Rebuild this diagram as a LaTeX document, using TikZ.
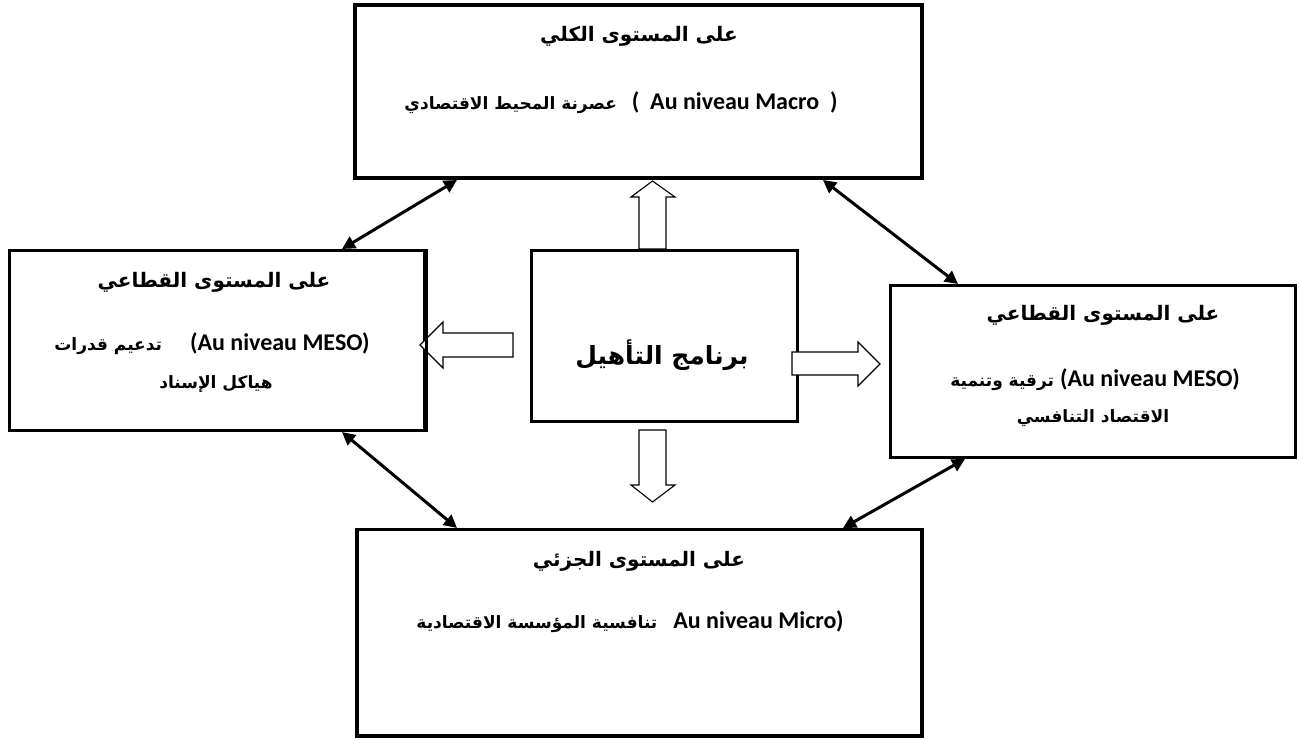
\documentclass[tikz,border=0pt]{standalone}
\usepackage{fontspec}
\usetikzlibrary{arrows.meta,calc}
\TeXXeTstate=1
\newfontfamily\arfont[Script=Arabic]{DejaVu Sans}
\newfontfamily\latfont{Carlito}
\newcommand{\AR}[1]{{\arfont\bfseries\beginR #1\endR}}
\newcommand{\LT}[1]{{\latfont\bfseries\fontsize{24}{28}\selectfont #1}}
\begin{document}
\begin{tikzpicture}[x=1pt,y=-1pt,
  box/.style={draw, line width=3.2pt, inner sep=0pt, fill=white},
  blockarrow/.style={draw, line width=1.1pt, fill=white, line join=miter},
  dbl/.style={line width=3pt, {Triangle[length=13pt,width=13pt]}-{Triangle[length=13pt,width=13pt]}},
  ttl/.style={inner sep=0pt, font=\fontsize{20}{24}\selectfont},
  txt/.style={inner sep=0pt, font=\fontsize{17}{20}\selectfont},
  big/.style={inner sep=0pt, font=\fontsize{25}{30}\selectfont}]
\useasboundingbox (0,0) rectangle (1299,743);

% boxes
\node[box, minimum width=567pt, minimum height=173pt] (top) at (638.5,91.5) {};
\node[box, minimum width=415pt, minimum height=180pt] (left) at (217,340.5) {};
\node[box, minimum width=405.5pt, minimum height=172pt] (right) at (1093,371.5) {};
\node[box, minimum width=565pt, minimum height=206.5pt] (bottom) at (639.5,632.75) {};
\node[box, minimum width=266pt, minimum height=171pt] (center) at (664.5,336) {};

% block arrows
\draw[blockarrow] (639,249)--(639,197)--(631,197)--(652.5,181)--(675,197)--(666,197)--(666,249)--cycle;
\draw[blockarrow] (639,430)--(666,430)--(666,485)--(675,485)--(652.5,502)--(631,485)--(639,485)--cycle;
\draw[blockarrow] (513,333)--(443,333)--(443,322)--(420,345)--(443,368)--(443,357)--(513,357)--cycle;
\draw[blockarrow] (792,352)--(858,352)--(858,342)--(880,364)--(858,386)--(858,375)--(792,375)--cycle;
\draw[line width=3.2pt] (left.north east) -- (left.south east);

% double arrows
\coordinate (a1) at (457,180);
\coordinate (b1) at (342,249);
\coordinate (a2) at (823,180);
\coordinate (b2) at (958,284);
\coordinate (a3) at (342,432);
\coordinate (b3) at (457,528);
\coordinate (a4) at (965,459);
\coordinate (b4) at (843,528);
\draw[dbl] (a1) -- (b1);
\draw[dbl] (a2) -- (b2);
\draw[dbl] (a3) -- (b3);
\draw[dbl] (a4) -- (b4);

% texts
\node[ttl] (t1) at (639,36) {\AR{على المستوى الكلي}};
\node[txt] (t2) at (621,103) {\AR{عصرنة المحيط الاقتصادي}\hspace{15pt}\LT{(\ \ Au niveau Macro\ \ )}};

\node[ttl] (l1) at (214,282) {\AR{على المستوى القطاعي}};
\node[txt] (l2) at (212,344) {\AR{تدعيم قدرات}\hspace{28pt}\LT{(Au niveau MESO)}};
\node[txt] (l3) at (216,384) {\AR{هياكل الإسناد}};

\node[ttl] (r1) at (1103,315) {\AR{على المستوى القطاعي}};
\node[txt] (r2) at (1095,380) {\AR{ترقية وتنمية}\hspace{6pt}\LT{(Au niveau MESO)}};
\node[txt] (r3) at (1093,418) {\AR{الاقتصاد التنافسي}};

\node[ttl] (bt1) at (639,561) {\AR{على المستوى الجزئي}};
\node[txt] (bt2) at (630,622) {\AR{تنافسية المؤسسة الاقتصادية}\hspace{16pt}\LT{Au niveau Micro)}};

\node[big] (c1) at (662,355) {\AR{برنامج التأهيل}};
\end{tikzpicture}
\end{document}
